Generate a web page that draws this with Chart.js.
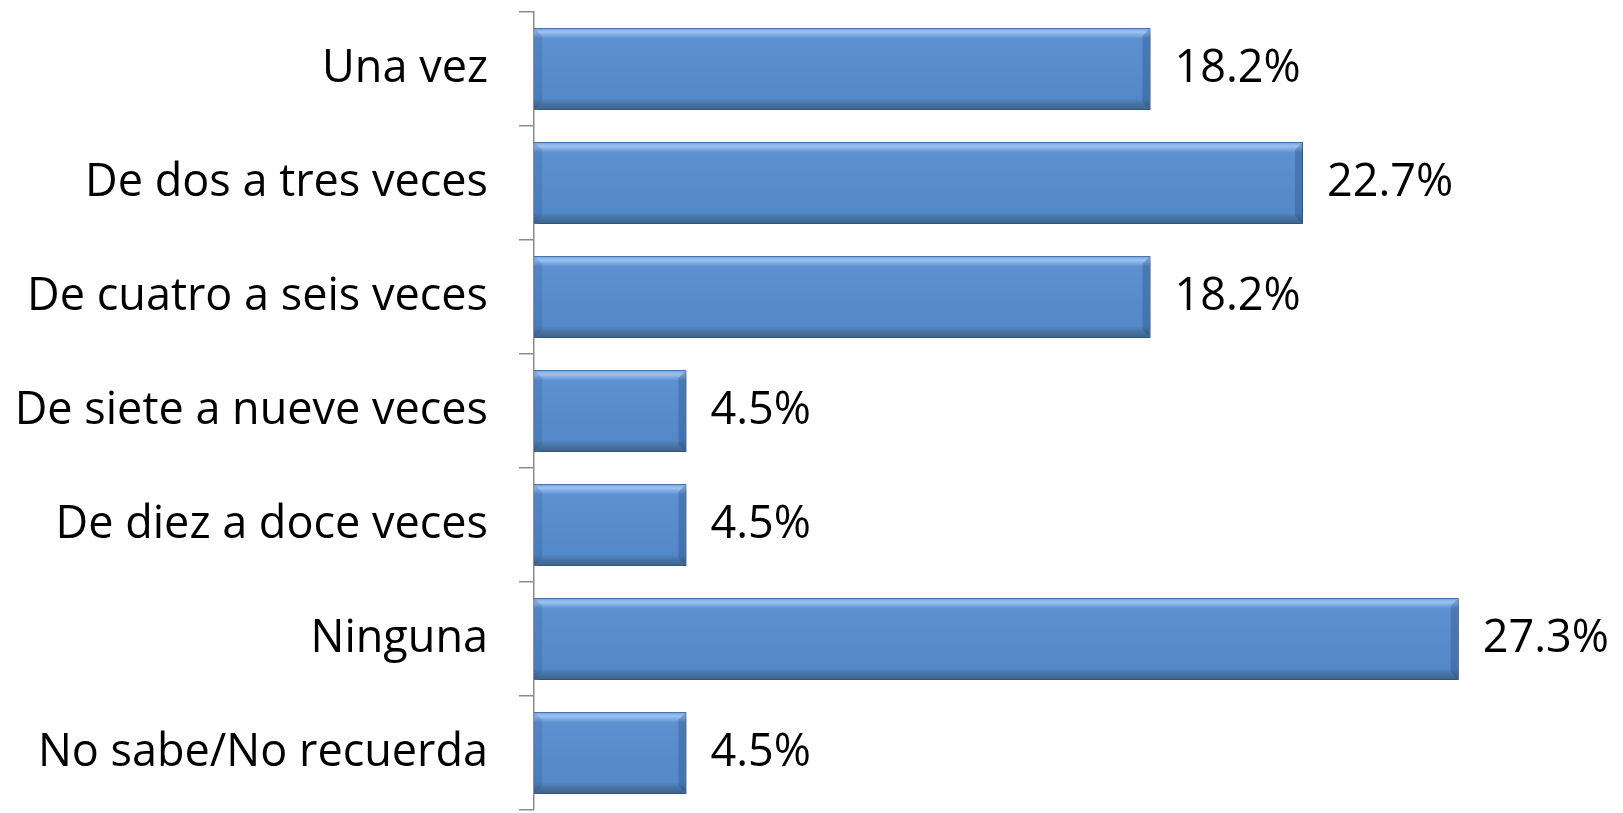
<!DOCTYPE html>
<html>
<head>
<meta charset="utf-8">
<script src="https://cdn.jsdelivr.net/npm/chart.js@4"></script>
<style>
  body { margin: 0; background: #fff; }
  #wrap { width: 1623px; height: 813px; }
</style>
</head>
<body>
<div id="wrap"><canvas id="freq-chart" width="1623" height="813"></canvas></div>
<script>
var categories = ["Una vez", "De dos a tres veces", "De cuatro a seis veces", "De siete a nueve veces", "De diez a doce veces", "Ninguna", "No sabe/No recuerda"];
var percentages = [18.2, 22.7, 18.2, 4.5, 4.5, 27.3, 4.5];

var labelFont = { family: "'Open Sans', 'Noto Sans', sans-serif", size: 45 };
var barRatio = 0.72;

// bevel-ish vertical gradient for each bar
function barFill(context) {
  var chart = context.chart;
  var yScale = chart.scales.y;
  if (!yScale || yScale.top === undefined) return "#558ACB";
  var step = (yScale.bottom - yScale.top) / categories.length;
  var yc = yScale.getPixelForValue(context.dataIndex);
  var h = step * barRatio;
  var g = chart.ctx.createLinearGradient(0, yc - h / 2, 0, yc + h / 2);
  g.addColorStop(0, "#6f9fdc");
  g.addColorStop(0.05, "#9cc2f2");
  g.addColorStop(0.13, "#5d90d0");
  g.addColorStop(0.86, "#5388c9");
  g.addColorStop(0.93, "#46729f");
  g.addColorStop(1, "#3b6290");
  return g;
}

var barShadow = {
  id: "barShadow",
  beforeDatasetsDraw: function (chart) {
    var c = chart.ctx;
    c.save();
    c.shadowColor = "rgba(0,0,0,0.35)";
    c.shadowOffsetX = 3;
    c.shadowOffsetY = 4;
    c.shadowBlur = 6;
  },
  afterDatasetsDraw: function (chart) {
    chart.ctx.restore();
    // side bevels
    var c = chart.ctx;
    var meta = chart.getDatasetMeta(0);
    var b = 8;
    c.save();
    meta.data.forEach(function (bar) {
      var top = bar.y - bar.height / 2, bot = bar.y + bar.height / 2;
      var left = bar.base, right = bar.x;
      c.fillStyle = "rgba(40,70,120,0.18)";
      c.beginPath();
      c.moveTo(left, top); c.lineTo(left + b, top + b); c.lineTo(left + b, bot - b); c.lineTo(left, bot);
      c.closePath(); c.fill();
      c.fillStyle = "rgba(30,60,110,0.28)";
      c.beginPath();
      c.moveTo(right, top); c.lineTo(right - b, top + b); c.lineTo(right - b, bot - b); c.lineTo(right, bot);
      c.closePath(); c.fill();
    });
    c.restore();
  }
};

var valueLabels = {
  id: "valueLabels",
  afterDraw: function (chart) {
    var c = chart.ctx;
    var meta = chart.getDatasetMeta(0);
    c.save();
    c.font = labelFont.size + "px " + labelFont.family;
    c.fillStyle = "#000";
    c.textAlign = "left";
    c.textBaseline = "middle";
    meta.data.forEach(function (bar, i) {
      c.fillText(percentages[i].toFixed(1) + "%", bar.x + 24, bar.y);
    });
    c.restore();
  }
};

var ctx = document.getElementById("freq-chart").getContext("2d");
new Chart(ctx, {
  type: "bar",
  data: {
    labels: categories,
    datasets: [
      {
        data: percentages,
        backgroundColor: barFill,
        borderColor: "#4a78b0",
        borderWidth: 1,
        categoryPercentage: 1,
        barPercentage: barRatio,
      },
    ],
  },
  options: {
    indexAxis: "y",
    responsive: false,
    animation: false,
    layout: { padding: { top: 12, bottom: 3, right: 5 } },
    scales: {
      x: {
        display: false,
        min: 0,
        max: 32,
      },
      y: {
        afterFit: function (scale) {
          scale.width = 534;
          scale.paddingTop = 0;
          scale.paddingBottom = 0;
        },
        border: { display: true, color: "#8c8c8c", width: 1.5 },
        grid: {
          drawOnChartArea: false,
          drawTicks: true,
          tickLength: 15,
          color: "#8c8c8c",
          lineWidth: 1.5,
        },
        ticks: {
          padding: 31,
          color: "#000",
          font: labelFont,
        },
      },
    },
    plugins: {
      legend: { display: false },
      tooltip: { enabled: false },
    },
  },
  plugins: [barShadow, valueLabels],
});
</script>
</body>
</html>
